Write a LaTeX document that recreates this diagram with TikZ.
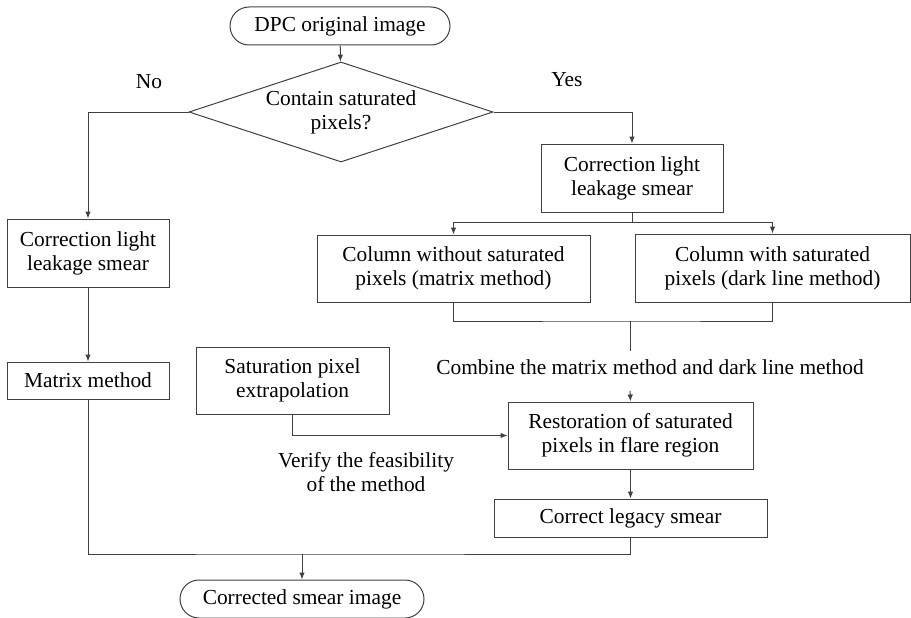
\documentclass[tikz,border=0pt]{standalone}
\usepackage{fontspec}
\setmainfont{Liberation Serif}
\usetikzlibrary{shapes.geometric,arrows.meta,calc,positioning}

\begin{document}
\begin{tikzpicture}[x=1pt,y=-1pt,font=\fontsize{21.4}{24}\selectfont,line width=1pt,draw=black!75,
  box/.style={draw=black!75,align=center,inner sep=0pt},
  term/.style={box,rounded corners=19pt,minimum height=38pt},
  decision/.style={draw=black!75,diamond,aspect=3.04,inner sep=0pt,align=center,minimum width=304pt,minimum height=100pt},
  arr/.style={-{Latex[length=7pt,width=5.5pt]}}]
\useasboundingbox (0,0) rectangle (911,618);
\node[term,minimum width=220pt] (start) at (340,26) {DPC original image};
\node[decision] (dec) at (341,112) {Contain saturated\\pixels?};
\node[box,minimum width=162pt,minimum height=68pt] (lcorr) at (88,253) {Correction light\\leakage smear};
\node[box,minimum width=182pt,minimum height=68pt] (rcorr) at (632,178) {Correction light\\leakage smear};
\node[box,minimum width=273pt,minimum height=67pt] (nosat) at (453.5,268.5) {Column without saturated\\pixels (matrix method)};
\node[box,minimum width=275pt,minimum height=68pt] (withsat) at (772.5,268) {Column with saturated\\pixels (dark line method)};
\node[box,minimum width=162pt,minimum height=37pt] (matrix) at (88,380.5) {Matrix method};
\node[box,minimum width=193pt,minimum height=67pt] (extra) at (292.5,380.5) {Saturation pixel\\extrapolation};
\node[box,minimum width=245pt,minimum height=67pt] (restore) at (630.5,435.5) {Restoration of saturated\\pixels in flare region};
\node[box,minimum width=273pt,minimum height=38pt] (legacy) at (630.5,518) {Correct legacy smear};
\node[term,minimum width=244pt] (final) at (302,599) {Corrected smear image};
\node (no) at (149,82) {No};
\node (yes) at (567,80) {Yes};
\node (combine) at (650,367) {Combine the matrix method and dark line method};
\node[align=center] (verify) at (366,472) {Verify the feasibility\\of the method};
\coordinate (split) at (632,222);
\coordinate (merge) at (630,321);
\coordinate (cmbtop) at (630,351);
\coordinate (cmbbot) at (630,391);
\coordinate (join) at (302,554);
\draw[arr] (start) -- (dec);
\draw[arr] (dec.west) -| (lcorr.north);
\draw[arr] (dec.east) -| (rcorr.north);
\draw[arr] (lcorr) -- (matrix);
\draw (rcorr.south) -- (split);
\draw[arr] (split) -| (nosat.north);
\draw[arr] (split) -| (withsat.north);
\draw (nosat.south) |- (merge) -| (withsat.south);
\draw (merge) -- (cmbtop);
\draw[arr] (cmbbot) -- (restore.north);
\draw[arr] (extra.south) |- (restore.west);
\draw[arr] (restore) -- (legacy);
\draw (matrix.south) |- (join) -| (legacy.south);
\draw[arr] (join) -- (final);
\end{tikzpicture}
\end{document}
